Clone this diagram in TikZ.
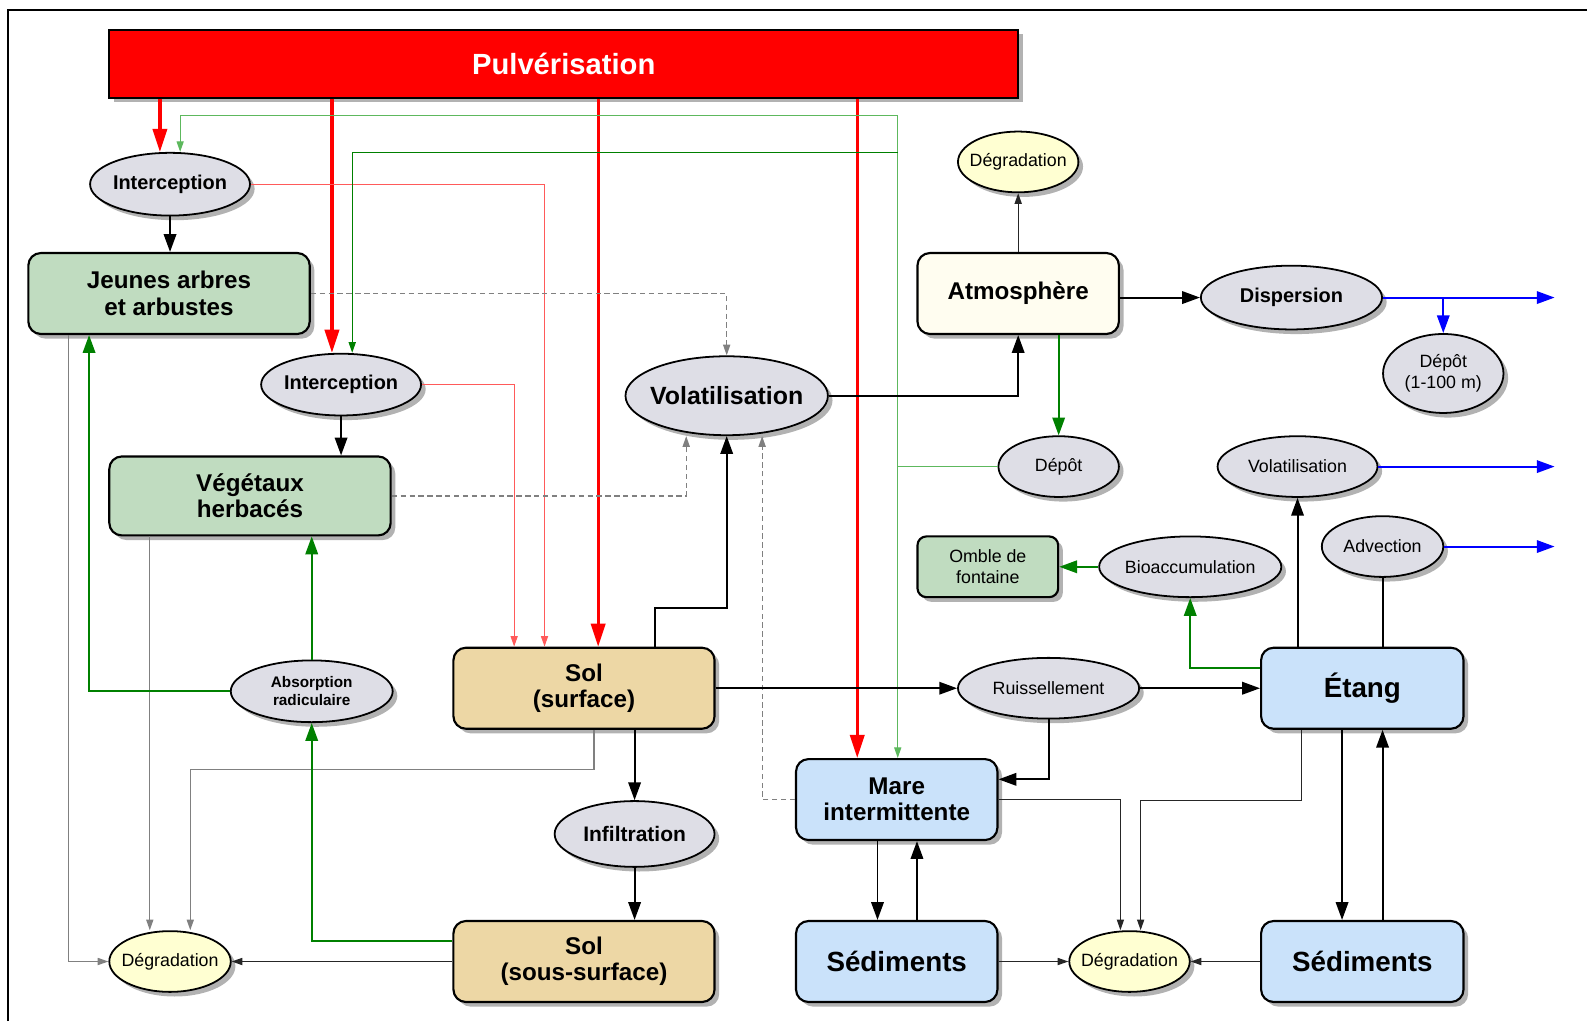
\documentclass[tikz,border=0pt]{standalone}
\usepackage{fontspec}
\setmainfont{Liberation Sans}
\usepackage{xcolor}
\usepackage{tikz}
\usetikzlibrary{shapes,arrows.meta,positioning,calc,shadows}

\definecolor{sprayred}{HTML}{FF0000}
\definecolor{procgray}{HTML}{DEDEE6}
\definecolor{plantgreen}{HTML}{C0DCC0}
\definecolor{soiltan}{HTML}{EDD7A5}
\definecolor{waterblue}{HTML}{CAE2FA}
\definecolor{aircream}{HTML}{FFFDF0}
\definecolor{decayyellow}{HTML}{FFFFD2}
\definecolor{leafdark}{HTML}{008000}
\definecolor{leaflight}{HTML}{5DB85D}
\definecolor{spraythin}{HTML}{FF5A5A}

\begin{document}
\begin{tikzpicture}[
    x=0.01cm,
    y=-0.01cm,
    shadowed/.style={drop shadow={shadow xshift=1.3pt, shadow yshift=-1.3pt, opacity=0.3, fill=black}},
    wh/.style 2 args={minimum width=#1*0.01cm, minimum height=#2*0.01cm},
    mainfont/.style={font=\fontsize{6.8}{7.4}\selectfont\bfseries},
    bigfont/.style={font=\fontsize{7.8}{8.5}\selectfont\bfseries},
    smallfont/.style={font=\fontsize{5}{6}\selectfont},
    tinyfont/.style={font=\fontsize{4.3}{5.1}\selectfont\bfseries},
    box/.style={draw, line width=0.6pt, rounded corners=3.5pt, align=center, inner sep=0pt, shadowed, mainfont},
    plant/.style={box, fill=plantgreen},
    soil/.style={box, fill=soiltan},
    water/.style={box, fill=waterblue},
    air/.style={box, fill=aircream},
    proc/.style={ellipse, draw, line width=0.5pt, fill=procgray, align=center, inner xsep=-16pt, inner ysep=-5pt, shadowed,
        font=\fontsize{5.6}{6.5}\selectfont\bfseries},
    decay/.style={proc, fill=decayyellow, smallfont},
    spray/.style={sprayred, line width=0.9pt, -{Triangle[length=6.5pt,width=4pt]}},
    spraylight/.style={spraythin, line width=0.35pt, -{Triangle[length=3pt,width=2pt]}},
    flow/.style={black, line width=0.55pt, -{Triangle[length=5pt,width=3.5pt]}},
    plain/.style={black, line width=0.55pt},
    slim/.style={black!85, line width=0.35pt, -{Triangle[length=3pt,width=2pt]}},
    slimgray/.style={gray, line width=0.35pt, -{Triangle[length=3pt,width=2pt]}},
    uptake/.style={leafdark, line width=0.55pt, -{Triangle[length=5pt,width=3.5pt]}},
    droplight/.style={leaflight, line width=0.35pt, -{Triangle[length=3pt,width=2pt]}},
    dropdark/.style={leafdark, line width=0.35pt, -{Triangle[length=3pt,width=2pt]}},
    vapour/.style={gray, line width=0.35pt, dash pattern=on 1.5pt off 1pt, -{Triangle[length=3pt,width=2pt]}},
    drift/.style={blue, line width=0.55pt, -{Triangle[length=5pt,width=3.5pt]}}
]
    \useasboundingbox (0,0) rectangle (1568,1009);
    % Frame
    \draw[line width=0.6pt] (8,1009) -- (8,10) -- (1568,10);

    % Source
    \node[draw, line width=0.6pt, fill=sprayred, text=white, shadowed, wh={898}{67},
        font=\fontsize{8.2}{9}\selectfont\bfseries] (pulv) at (557,63) {Pulvérisation};

    % Vegetation side
    \node[proc, wh={158}{62}] (interA) at (168,182) {Interception};
    \node[plant, wh={278}{80}] (jeunes) at (167,290) {Jeunes arbres\\et arbustes};
    \node[proc, wh={158}{61}] (interB) at (337,380) {Interception};
    \node[plant, wh={278}{78}] (vegetaux) at (247,490) {Végétaux\\herbacés};
    \node[proc, tinyfont, wh={160}{61}] (absorb) at (308,683) {Absorption\\radiculaire};
    \node[decay, wh={120}{60}] (degSol) at (168,950) {Dégradation};

    % Soil
    \node[soil, wh={258}{80}] (solSurf) at (577,680) {Sol\\(surface)};
    \node[proc, font=\fontsize{5.9}{6.5}\selectfont\bfseries, wh={158}{65}] (infil) at (627,824) {Infiltration};
    \node[soil, wh={258}{80}] (solSous) at (577,950) {Sol\\(sous-surface)};

    % Air
    \node[proc, font=\fontsize{7}{8}\selectfont\bfseries, wh={200}{78}] (volat) at (718,391) {Volatilisation};
    \node[decay, wh={119}{60}] (degAtm) at (1006,160) {Dégradation};
    \node[air, wh={199}{80}] (atmo) at (1006,290) {Atmosphère};
    \node[proc, wh={179}{63}] (dispers) at (1276,294) {Dispersion};
    \node[proc, smallfont, wh={119}{78}] (depotLoin) at (1426,369) {Dépôt\\(1-100 m)};
    \node[proc, smallfont, wh={119}{60}] (depot) at (1046,461) {Dépôt};

    % Water
    \node[proc, smallfont, wh={158}{60}] (volatEtang) at (1282,461) {Volatilisation};
    \node[proc, smallfont, wh={120}{60}] (advec) at (1366,540) {Advection};
    \node[plant, smallfont, rounded corners=2.5pt, wh={139}{60}] (omble) at (976,560) {Omble de\\fontaine};
    \node[proc, smallfont, wh={180}{60}] (bioacc) at (1176,560) {Bioaccumulation};
    \node[proc, smallfont, wh={179}{60}] (ruiss) at (1036,680) {Ruissellement};
    \node[water, bigfont, wh={200}{80}] (etang) at (1346,680) {Étang};
    \node[water, wh={199}{80}] (mare) at (886,790) {Mare\\intermittente};
    \node[water, bigfont, wh={199}{80}] (sedMare) at (886,950) {Sédiments};
    \node[decay, wh={119}{60}] (degEau) at (1116,950) {Dégradation};
    \node[water, bigfont, wh={200}{80}] (sedEtang) at (1346,950) {Sédiments};

    % Free ends
    \coordinate (outA) at (1536,294);
    \coordinate (outB) at (1536,461);
    \coordinate (outC) at (1536,540);
    \coordinate (fork) at (887,151);

    % Spray
    \draw[spray] (pulv.south -| 158,0) -- (interA.north -| 158,0);
    \draw[spray] (pulv.south -| 328,0) -- (interB.north -| 328,0);
    \draw[spray] (pulv.south -| 591,0) -- (solSurf.north -| 591,0);
    \draw[spray] (pulv.south -| 847,0) -- (mare.north -| 847,0);
    \draw[spraylight] (interA.east) -| (solSurf.north -| 538,0);
    \draw[spraylight] (interB.east) -| (solSurf.north -| 508,0);

    % Deposition back to the ground
    \draw[droplight] (depot.west) -| (mare.north -| 887,0);
    \draw[droplight] (depot.west -| 887,0) |- (178,114) -- (interA.north -| 178,0);
    \draw[dropdark] (fork) -| (interB.north -| 348,0);

    % Interception
    \draw[flow] (interA.south) -- (jeunes.north -| interA.south);
    \draw[flow] (interB.south) -- (vegetaux.north -| interB.south);

    % Volatilisation
    \draw[vapour] (jeunes.east) -| (volat.north);
    \draw[vapour] (vegetaux.east) -| (volat.south -| 678,0);
    \draw[vapour] (mare.west) -| (volat.south -| 753,0);
    \draw[flow] (solSurf.north -| 647,0) |- (718,601) -- (volat.south);
    \draw[flow] (volat.east) -| (atmo.south);

    % Atmosphere
    \draw[slim] (atmo.north) -- (degAtm.south);
    \draw[flow] (atmo.east |- dispers) -- (dispers.west);
    \draw[uptake] (atmo.south -| depot.north) -- (depot.north);
    \draw[drift] (dispers.east) -- (outA);
    \draw[drift] (dispers.east -| depotLoin.north) -- (depotLoin.north);
    \draw[drift] (volatEtang.east) -- (outB);
    \draw[drift] (advec.east) -- (outC);

    % Pond
    \draw[flow] (etang.north -| volatEtang.south) -- (volatEtang.south);
    \draw[plain] (etang.north -| advec.south) -- (advec.south);
    \draw[uptake] (etang.west |- 0,660) -| (bioacc.south);
    \draw[uptake] (bioacc.west) -- (omble.east);
    \draw[flow] (solSurf.east) -- (ruiss.west);
    \draw[flow] (ruiss.east) -- (etang.west);
    \draw[flow] (ruiss.south) |- (mare.east |- 0,770);
    \draw[slim] (mare.east) -| (degEau.north -| 1107,0);
    \draw[slim] (etang.south -| 1286,0) |- (1127,791) -- (degEau.north -| 1127,0);
    \draw[flow] (etang.south -| 1326,0) -- (sedEtang.north -| 1326,0);
    \draw[flow] (sedEtang.north -| 1366,0) -- (etang.south -| 1366,0);
    \draw[flow] (mare.south -| 867,0) -- (sedMare.north -| 867,0);
    \draw[flow] (sedMare.north -| 906,0) -- (mare.south -| 906,0);
    \draw[slim] (sedMare.east) -- (degEau.west);
    \draw[slim] (sedEtang.west) -- (degEau.east);

    % Soil and roots
    \draw[flow] (solSurf.south -| infil.north) -- (infil.north);
    \draw[flow] (infil.south) -- (solSous.north -| infil.south);
    \draw[slimgray] (solSurf.south -| 587,0) |- (188,760) -- (degSol.north -| 188,0);
    \draw[slimgray] (vegetaux.south -| 148,0) -- (degSol.north -| 148,0);
    \draw[slimgray] (jeunes.south -| 68,0) |- (degSol.west);
    \draw[slim] (solSous.west) -- (degSol.east);
    \draw[uptake] (solSous.west |- 0,930) -| (absorb.south);
    \draw[uptake] (absorb.north) -- (vegetaux.south -| absorb.north);
    \draw[uptake] (absorb.west) -| (jeunes.south -| 88,0);
\end{tikzpicture}
\end{document}
